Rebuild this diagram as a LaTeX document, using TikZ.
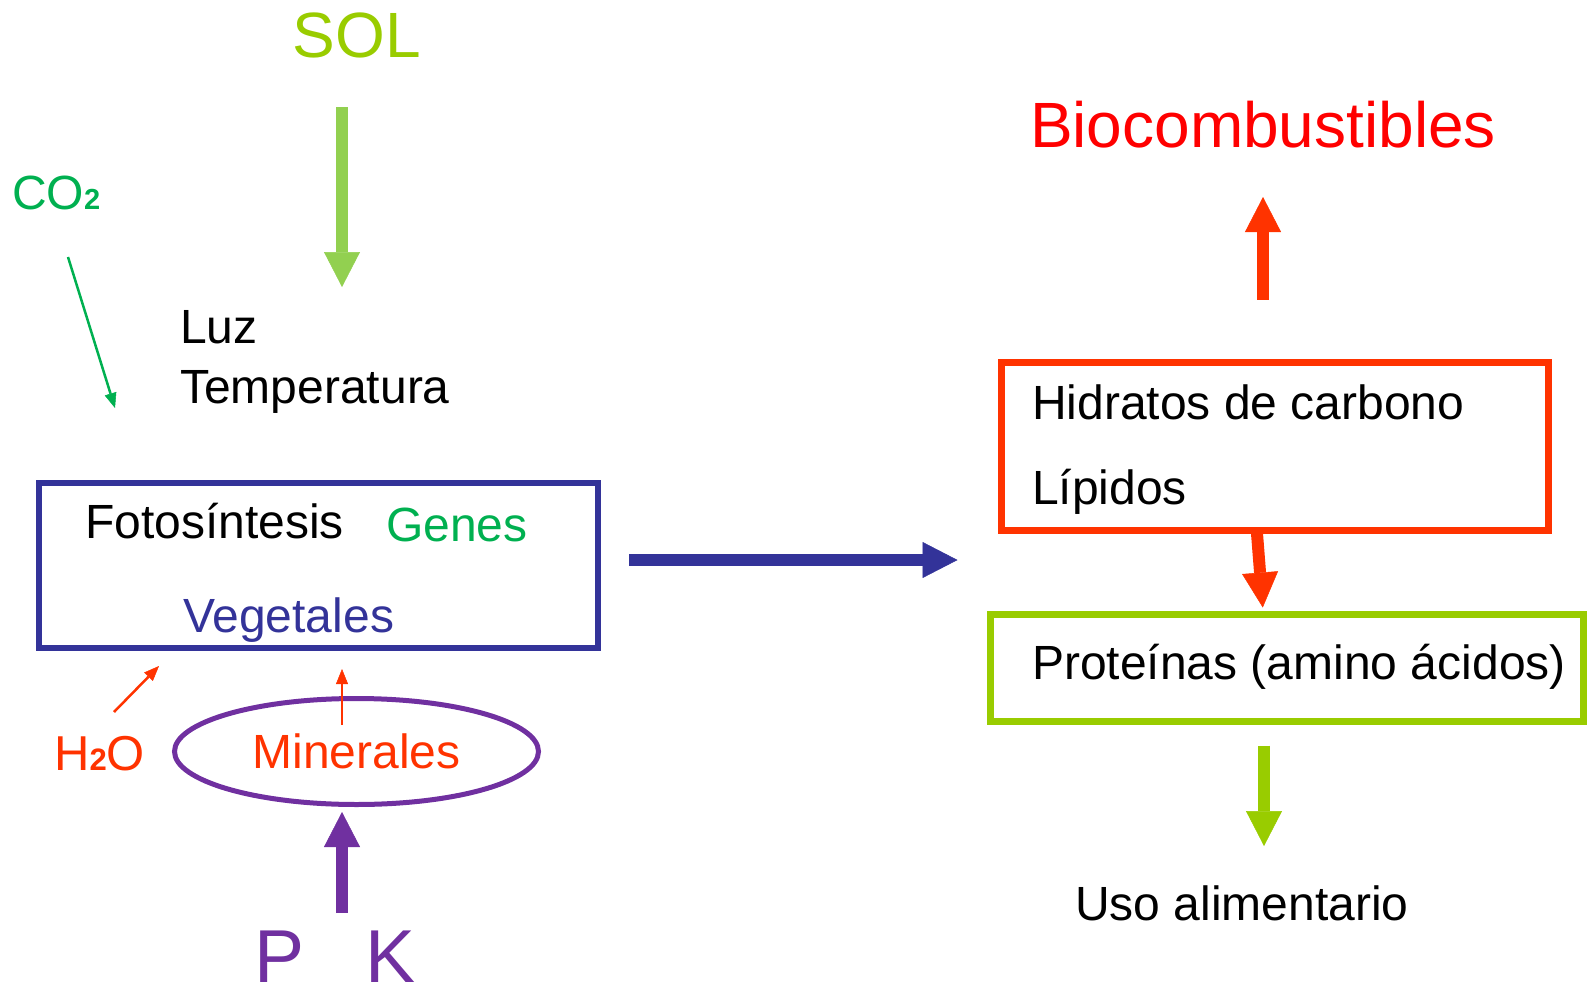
\documentclass[tikz,border=0pt]{standalone}
\usepackage{fontspec}
\setmainfont{Liberation Sans}
\usetikzlibrary{arrows.meta,shapes.geometric,positioning}
\definecolor{solgreen}{HTML}{99CC00}
\definecolor{lightgreen}{HTML}{92D050}
\definecolor{leafgreen}{HTML}{00B050}
\definecolor{navy}{HTML}{333399}
\definecolor{flame}{HTML}{FF3300}
\definecolor{purp}{HTML}{7030A0}
\newcommand{\fsz}[1]{\fontsize{#1}{#1}\selectfont}
\begin{document}
\begin{tikzpicture}[x=1pt, y=-1pt,
		txt/.style={inner sep=0pt, anchor=base west},
		fat/.style={line width=12pt, -{Triangle[width=36pt,length=35pt,line width=0.5pt]}},
		slim/.style={line width=2.5pt, -{Triangle[width=12pt,length=15pt,line width=0.5pt]}},
		box/.style={draw, inner sep=0pt}]
		\useasboundingbox (0,0) rectangle (1588,990);
		
		\node[txt, anchor=base, text=solgreen] (sol) at (357,58) {\fsz{64}SOL};
		\node[txt, text=leafgreen] (co2) at (12,209) {\fsz{48}CO{\fsz{29}\bfseries 2}};
		\node[txt] (luz) at (180,343) {\fsz{48}Luz};
		\node[txt] (temp) at (180,403) {\fsz{48}Temperatura};
		
		\node[box, draw=navy, line width=6pt, minimum width=559pt, minimum height=165pt] (foto) at (318.5,565.5) {};
		\node[txt] (fotosintesis) at (85,538) {\fsz{48}Fotosíntesis};
		\node[txt, text=leafgreen] (genes) at (386,541) {\fsz{48}Genes};
		\node[txt, text=navy] (vegetales) at (183,632) {\fsz{48}Vegetales};
		
		\node[ellipse, draw=purp, line width=5pt, minimum width=364pt, minimum height=106pt, text=flame] (minerales) at (356.5,751.5) {\fsz{48}Minerales};
		\node[txt, text=flame] (h2o) at (54,770) {\fsz{49}H{\fsz{31}\bfseries 2}O};
		\node[txt, text=purp] (pk) at (254,982) {\fsz{75}P\hspace{61pt}K};
		
		\node[box, draw=flame, line width=7pt, minimum width=547pt, minimum height=168pt] (hc) at (1274.5,446) {};
		\node[txt] (hidratos) at (1032,419) {\fsz{48}Hidratos de carbono};
		\node[txt] (lipidos) at (1032,504) {\fsz{48}Lípidos};
		\node[txt, anchor=base, text=red] (bio) at (1263,147) {\fsz{64}Biocombustibles};
		
		\node[box, draw=solgreen, line width=7pt, minimum width=593pt, minimum height=107pt] (prot) at (1286.5,667.5) {};
		\node[txt] (proteinas) at (1032,679) {\fsz{48}Proteínas (amino ácidos)};
		\node[txt, anchor=base] (uso) at (1242,920) {\fsz{48}Uso alimentario};
		
		\coordinate (sun) at (342,107);
		\coordinate (light) at (342,287);
		\coordinate (gas) at (68,257);
		\coordinate (leaf) at (115,408);
		\coordinate (wet) at (114,712);
		\coordinate (wetin) at (159,666);
		\coordinate (salt) at (342,725);
		\coordinate (ore) at (342,913);
		\coordinate (flow) at (629,560);
		
		\draw[fat, lightgreen] (sun) -- (light);
		\draw[slim, leafgreen] (gas) -- (leaf);
		\draw[slim, flame] (wet) -- (wetin);
		\draw[slim, flame, shorten >=18pt] (salt) -- (salt |- foto.south);
		\draw[fat, purp, shorten >=5pt] (ore) -- (ore |- minerales.south);
		\draw[fat, navy, shorten >=40pt] (flow) -- (flow -| hc.west);
		\draw[fat, flame, shorten <=59pt, shorten >=50pt] (hc.north -| bio.base) -- (bio.base);
		\draw[fat, flame, shorten >=3pt] ([xshift=-17.5pt]hc.south) -- ([xshift=-23.5pt]prot.north);
		\draw[fat, solgreen, shorten <=21pt, shorten >=39pt] ([xshift=-22.5pt]prot.south) -- ([xshift=-22.5pt]prot.south |- uso.north);
	\end{tikzpicture}
\end{document}
